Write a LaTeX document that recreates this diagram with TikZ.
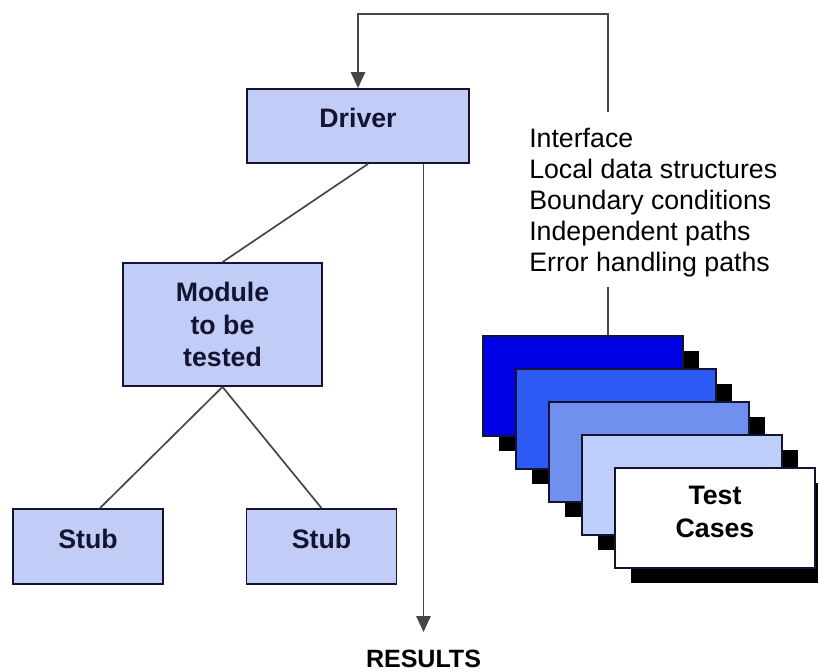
\documentclass[tikz,border=0pt]{standalone}
\usepackage{fontspec}
\setmainfont{Liberation Sans}
\usepackage{tikz}
\usetikzlibrary{arrows.meta,shapes,positioning,shadows}
\usepackage{xcolor}
\definecolor{tcbox}{RGB}{193,204,247}
\definecolor{tcline}{RGB}{70,70,70}
\definecolor{tctext}{RGB}{20,20,50}
\definecolor{tccard1}{RGB}{0,0,228}
\definecolor{tccard2}{RGB}{45,90,245}
\definecolor{tccard3}{RGB}{112,144,240}
\definecolor{tccard4}{RGB}{192,206,252}
\tikzstyle{unit} = [draw=tctext, line width=1.3pt, fill=tcbox, text=tctext, font=\fontsize{19}{23}\selectfont\bfseries, align=center, inner sep=0pt]
\tikzstyle{card} = [draw=tctext, line width=1.1pt, minimum width=5cm, minimum height=2.5cm, inner sep=0pt, drop shadow={shadow xshift=0.4cm, shadow yshift=-0.375cm, fill=black, opacity=1}]
\tikzstyle{link} = [line width=1.2pt, color=tcline]
\tikzstyle{arrow} = [link, -{Triangle[length=0.4cm,width=0.36cm]}]

\begin{document}
\begin{tikzpicture}
\useasboundingbox (0,0) rectangle (20.45,16.775);
% Units
\node[unit, minimum width=5.55cm, minimum height=1.85cm, text depth=0.4cm] (driver) at (8.95,13.625) {Driver};
\node[unit, minimum width=4.975cm, minimum height=3.075cm] (module) at (5.5625,8.6625) {Module\\to be\\tested};
\node[unit, minimum width=3.75cm, minimum height=1.875cm, text depth=0.4cm] (stubA) at (2.2,3.1125) {Stub};
\node[unit, minimum width=3.75cm, minimum height=1.875cm, text depth=0.4cm] (stubB) at (8.0375,3.1125) {Stub};

% Test cases
\node[card, fill=tccard1] (card1) at (14.575,7.125) {};
\node[card, fill=tccard2] (card2) at (15.4,6.3) {};
\node[card, fill=tccard3] (card3) at (16.225,5.475) {};
\node[card, fill=tccard4] (card4) at (17.05,4.65) {};
\node[card, fill=white, text=black, align=center, text depth=0.3cm, font=\fontsize{19}{23.5}\selectfont\bfseries] (card5) at (17.875,3.825) {Test\\Cases};

% Labels
\node[anchor=north west, inner sep=0pt, align=left, font=\fontsize{19}{22}\selectfont] (checks) at (13.225,13.575) {Interface\\Local data structures\\Boundary conditions\\Independent paths\\Error handling paths};
\node[anchor=north, inner sep=0pt, font=\fontsize{17.8}{22}\selectfont\bfseries] (results) at (10.5875,0.525) {RESULTS};

% Connectors
\coordinate (loopTop) at (15.2,16.425);
\coordinate (ifcTop) at (15.2,13.975);
\coordinate (ifcBot) at (15.2,9.6);
\draw[arrow] (ifcTop) -- (loopTop) -| (driver.north);
\draw[link] (ifcBot) -- (card1.north -| ifcBot);
\draw[link] ([xshift=0.25cm]driver.south) -- (module.north);
\draw[link] (module.south) -- ([xshift=0.3cm]stubA.north);
\draw[link] (module.south) -- (stubB.north);
\draw[arrow, shorten >=0.45cm] (driver.south -| results.north) -- (results.north);
\end{tikzpicture}
\end{document}
